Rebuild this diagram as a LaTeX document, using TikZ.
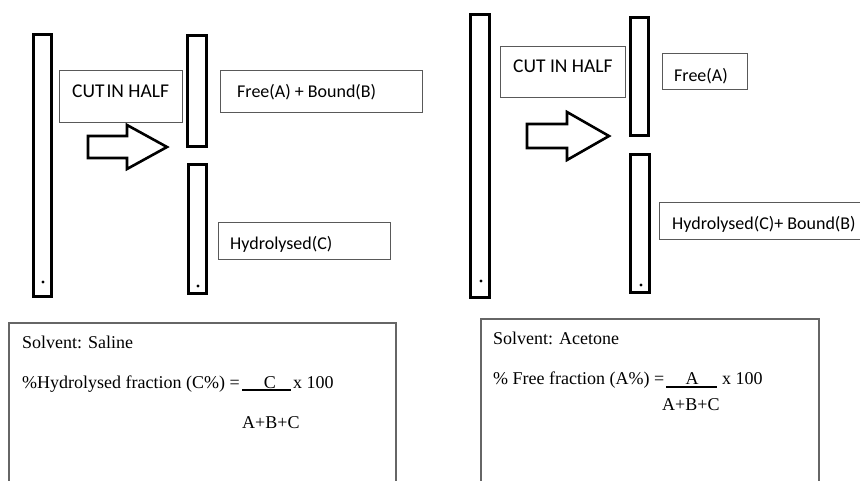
\documentclass[tikz,border=0pt]{standalone}
\usepackage{fontspec}
\setmainfont{Liberation Serif}
\newfontfamily\calfont{Carlito}
\begin{document}
\begin{tikzpicture}[x=1pt,y=-1pt,
  strip/.style={draw=black,line width=3pt},
  tbox/.style={draw=black!65,line width=1pt},
  fbox/.style={draw=black!60,line width=1.2pt},
  blockarrow/.style={draw=black,line width=2.6pt,line join=miter},
  sanstxt/.style={anchor=base west,inner sep=0pt,font=\calfont\fontsize{18}{20}\selectfont},
  cuttxt/.style={anchor=base west,inner sep=0pt,font=\calfont\fontsize{19.5}{21}\selectfont},
  seriftxt/.style={anchor=base west,inner sep=0pt,font=\fontsize{18}{20}\selectfont},
  dotmark/.style={fill=black,circle,inner sep=0pt,minimum size=3.2pt}]
\useasboundingbox (0,0) rectangle (860,480);
\fill[white] (0,0) rectangle (860,480);

% ---------- left panel ----------
\draw[strip] (33.5,34.5) rectangle (51.5,296.5);
\node[dotmark] (dotL1) at (43,282) {};
\draw[strip] (187.5,35.5) rectangle (206.5,146.5);
\draw[strip] (188.5,164.5) rectangle (206.5,293.5);
\node[dotmark] (dotL2) at (198,286) {};

\draw[tbox] (59,70) rectangle (182,122);
\node[cuttxt] (cutL) at (72,97) {CUT\kern-2.5pt{} IN HALF};
\draw[blockarrow] (88,136) -- (127,136) -- (127,125) -- (167,147) -- (127,169) -- (127,158) -- (88,158) -- cycle;

\draw[tbox] (220,70) rectangle (422,112);
\node[sanstxt] (fabL) at (237,97) {Free(A) + Bound(B)};
\draw[tbox] (218,222) rectangle (390,259);
\node[sanstxt] (hydL) at (230,249) {Hydrolysed(C)};

% ---------- right panel ----------
\draw[strip] (470.5,14.5) rectangle (489.5,297.5);
\node[dotmark] (dotR1) at (481,281) {};
\draw[strip] (630.5,17.5) rectangle (648.5,135.5);
\draw[strip] (630.5,154.5) rectangle (649.5,292.5);
\node[dotmark] (dotR2) at (641,285) {};

\draw[tbox] (500,46) rectangle (625,97);
\node[cuttxt] (cutR) at (513,72) {CUT IN HALF};
\draw[blockarrow] (527,124) -- (567,124) -- (567,112) -- (609,136) -- (567,160) -- (567,148) -- (527,148) -- cycle;

\draw[tbox] (662,53) rectangle (747,89);
\node[sanstxt] (freeR) at (674,81) {Free(A)};
\draw[tbox] (865,202) -- (659,202) -- (659,239) -- (865,239);
\node[sanstxt] (hybR) at (672,229) {Hydrolysed(C)+ Bound(B)};

% ---------- formula boxes ----------
\draw[fbox] (9,490) -- (9,323) -- (396,323) -- (396,490);
\node[seriftxt] (solL) at (22,348) {Solvent: Saline};
\node[seriftxt] (eqL) at (22,388) {\%Hydrolysed fraction (C\%) =};
\draw[line width=1.2pt] (242,390) -- (291,390);
\node[seriftxt,anchor=base] (numL) at (270,388) {C};
\node[seriftxt] (xL) at (293,388) {x 100};
\node[seriftxt] (denL) at (242,428) {A+B+C};

\draw[fbox] (481,490) -- (481,319) -- (819,319) -- (819,490);
\node[seriftxt] (solR) at (493,344) {Solvent: Acetone};
\node[seriftxt] (eqR) at (493,384) {\% Free fraction (A\%) =};
\draw[line width=1.2pt] (666,387) -- (717,387);
\node[seriftxt,anchor=base] (numR) at (692,384) {A};
\node[seriftxt] (xR) at (722,384) {x 100};
\node[seriftxt] (denR) at (662,410) {A+B+C};
\end{tikzpicture}
\end{document}
